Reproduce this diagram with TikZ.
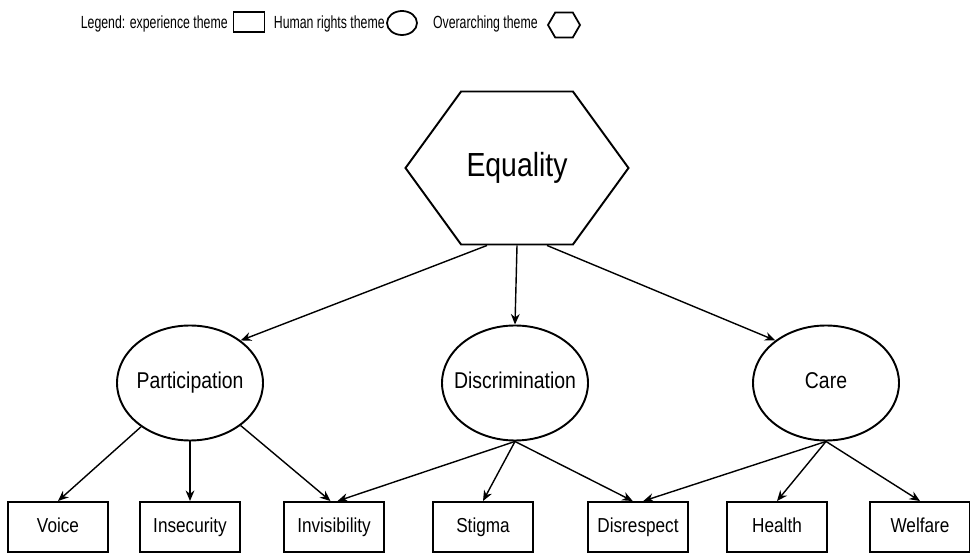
\documentclass[tikz,border=0pt]{standalone}
\usepackage{fontspec}
\setmainfont[FakeStretch=0.85]{Liberation Sans}
\newfontfamily\legendfont[FakeStretch=0.7]{Liberation Sans}
\usetikzlibrary{shapes.geometric,shapes.symbols,arrows.meta,positioning}

\begin{document}
\begin{tikzpicture}[
        exptheme/.style={draw, line width=1.1pt, minimum width=2cm, minimum height=1cm, inner sep=0pt, text height=1.5ex, text depth=0.3ex, font=\fontsize{11.5}{13}\selectfont},
        hrtheme/.style={draw, ellipse, line width=1.1pt, minimum width=2.92cm, minimum height=2.3cm, inner xsep=-20pt, inner ysep=0pt, text height=1.5ex, text depth=0.3ex, font=\fontsize{13}{15}\selectfont},
        overtheme/.style={draw, signal, signal to=west and east, signal pointer angle=108, line width=1.1pt, minimum width=4.46cm, minimum height=3.06cm, inner sep=0pt, font=\fontsize{19}{22}\selectfont},
        legendtext/.style={font=\legendfont\fontsize{10}{12}\selectfont, inner sep=0pt, anchor=base east},
        link/.style={-{Stealth[length=6pt,width=5pt]}, line width=0.8pt}
    ]
                \useasboundingbox (0,0) rectangle (19.4,11.06);

                %legend
                \node[legendtext] (legexp) at (4.56,10.48) {Legend: experience theme};
                \node[draw, line width=1pt, minimum width=0.62cm, minimum height=0.4cm] (legrect) at (4.98,10.62) {};
                \node[legendtext] (leghr) at (7.7,10.48) {Human rights theme};
                \node[draw, ellipse, line width=1pt, minimum width=0.6cm, minimum height=0.48cm, inner sep=0pt] (legell) at (8.04,10.6) {};
                \node[legendtext] (legover) at (10.76,10.48) {Overarching theme};
                \node[draw, signal, signal to=west and east, signal pointer angle=120, line width=1pt, minimum width=0.64cm, minimum height=0.5cm, inner sep=0pt] (leghex) at (11.28,10.56) {};

                \node[overtheme] (equality) at (10.34,7.70) {Equality};

                \node[hrtheme] (participation) at (3.80,3.40) {Participation};
                \node[hrtheme] (discrimination) at (10.30,3.40) {Discrimination};
                \node[hrtheme] (care) at (16.52,3.40) {Care};

                \node[exptheme] (voice) at (1.16,0.52) {Voice};
                \node[exptheme] (insecurity) at (3.80,0.52) {Insecurity};
                \node[exptheme] (invisibility) at (6.68,0.52) {Invisibility};
                \node[exptheme] (stigma) at (9.66,0.52) {Stigma};
                \node[exptheme] (disrespect) at (12.76,0.52) {Disrespect};
                \node[exptheme] (health) at (15.54,0.52) {Health};
                \node[exptheme] (welfare) at (18.40,0.52) {Welfare};

                \draw[link] ([xshift=-0.6cm]equality.south) -- (participation.40);
                \draw[link] (equality.south) -- (discrimination.north);
                \draw[link] ([xshift=0.6cm]equality.south) -- (care.140);

                \draw[link] (participation) -- (voice.north);
                \draw[link] (participation) -- (insecurity.north);
                \draw[link] (participation) -- ([xshift=-2pt]invisibility.north);

                \draw[link] (discrimination.south) -- ([xshift=2pt]invisibility.north);
                \draw[link] (discrimination.south) -- (stigma.north);
                \draw[link] (discrimination.south) -- ([xshift=-3pt]disrespect.north);

                \draw[link] (care.south) -- ([xshift=3pt]disrespect.north);
                \draw[link] (care.south) -- (health.north);
                \draw[link] (care.south) -- (welfare.north);
            \end{tikzpicture}
\end{document}
